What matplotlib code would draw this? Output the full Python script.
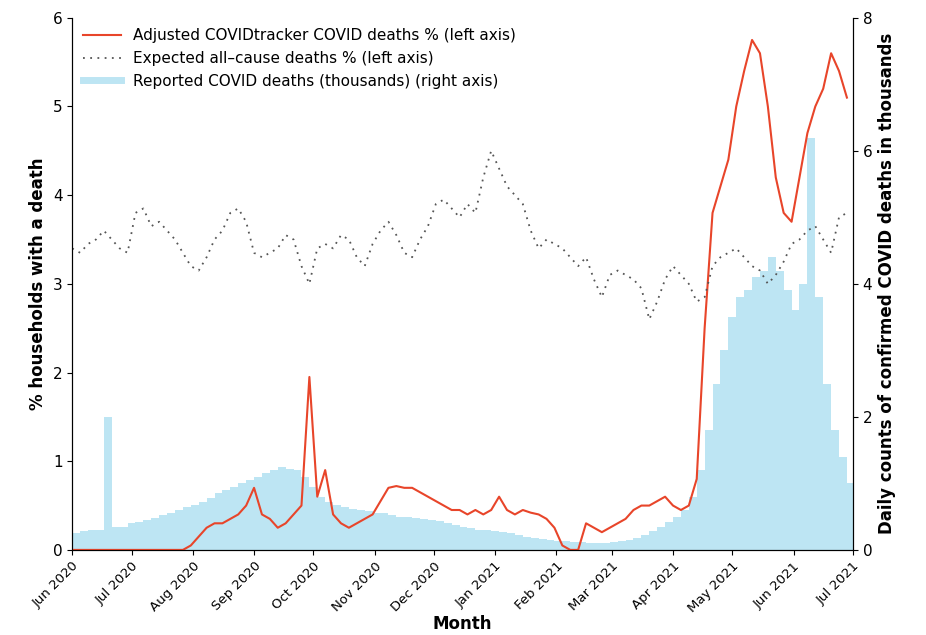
import numpy as np
import pandas as pd
import matplotlib
matplotlib.use('Agg')
import matplotlib.pyplot as plt
import matplotlib.dates as mdates

# values every 4 days starting 2020-06-01
reported_k = [0.25,0.28,0.3,0.3,2.0,0.35,0.35,0.4,
              0.42,0.45,0.48,0.52,0.55,0.6,0.65,0.68,
              0.72,0.78,0.85,0.9,0.95,1.0,1.05,1.1,
              1.15,1.2,1.25,1.22,1.2,1.1,0.95,0.8,
              0.72,0.68,0.65,0.62,0.6,0.58,0.56,
              0.55,0.52,0.5,0.5,0.48,0.46,0.45,
              0.43,0.4,0.38,0.35,0.33,0.3,0.3,0.28,
              0.27,0.25,0.22,0.2,0.18,0.17,0.15,0.14,
              0.13,0.12,0.12,0.11,0.11,0.11,0.12,
              0.13,0.15,0.18,0.22,0.28,0.35,0.42,0.5,
              0.6,0.8,1.2,1.8,2.5,3.0,3.5,3.8,
              3.9,4.1,4.2,4.4,4.2,3.9,3.6,4.0,
              6.2,3.8,2.5,1.8,1.4,1.0]
adjusted = [0]*15 + [0.05,0.15,0.25,0.3,0.3,0.35,0.4,0.5,0.7,0.4,0.35,0.25,0.3,0.4,0.5,
            1.95,0.6,0.9,0.4,0.3,0.25,0.3,0.35,0.4,0.55,0.7,0.72,0.7,0.7,0.65,0.6,
            0.55,0.5,0.45,0.45,0.4,0.45,0.4,0.45,0.6,0.45,0.4,0.45,0.42,0.4,0.35,
            0.25,0.05,0.0,0.0,0.3,0.25,0.2,0.25,0.3,0.35,0.45,0.5,0.5,0.55,0.6,
            0.5,0.45,0.5,0.8,2.5,3.8,4.1,4.4,5.0,5.4,5.75,5.6,5.0,4.2,3.8,3.7,
            4.2,4.7,5.0,5.2,5.6,5.4,5.1]
expected = [3.4,3.35,3.45,3.5,3.6,3.5,3.4,3.35,3.8,3.85,3.65,3.7,3.6,3.5,3.35,3.2,
            3.15,3.3,3.5,3.6,3.8,3.85,3.7,3.35,3.3,3.35,3.4,3.55,3.5,3.2,3.0,3.4,
            3.45,3.4,3.55,3.5,3.3,3.2,3.45,3.6,3.7,3.55,3.35,3.3,3.5,3.65,3.9,3.95,
            3.85,3.75,3.9,3.8,4.2,4.5,4.3,4.1,4.0,3.9,3.6,3.4,3.5,3.45,3.4,3.3,
            3.2,3.3,3.05,2.85,3.1,3.15,3.1,3.05,2.95,2.6,2.8,3.05,3.2,3.1,3.0,2.8,
            2.85,3.2,3.3,3.35,3.4,3.3,3.2,3.15,3.0,3.1,3.25,3.45,3.5,3.6,3.65,3.5,
            3.35,3.75,3.8]

start = pd.Timestamp('2020-06-01')
def dates(v):
    return start + pd.to_timedelta(np.arange(len(v)) * 4, unit='D')

fig = plt.figure(figsize=(9.26, 6.35), dpi=100)
ax = fig.add_axes([0.078, 0.134, 0.843, 0.838])
ax2 = ax.twinx()
ax.set_zorder(2); ax.patch.set_visible(False)

ax2.bar(dates(reported_k), reported_k, width=4, align='edge', color='#bde5f3', linewidth=0)
ax.plot(dates(adjusted), adjusted, color='#e8452a', lw=1.5, label='Adjusted COVIDtracker COVID deaths % (left axis)')
ax.plot(dates(expected), expected, color='#555555', lw=1.3, ls=(0, (1, 3)), label='Expected all\u2013cause deaths % (left axis)')
ax.plot([], [], color='#bde5f3', lw=5, label='Reported COVID deaths (thousands) (right axis)')

for a in (ax, ax2):
    a.spines['top'].set_visible(False)

x0, x1 = pd.Timestamp('2020-06-01'), pd.Timestamp('2021-07-01')
ax.set_xlim(x0, x1)
ax.set_ylim(0, 6)
ax2.set_ylim(0, 8)
ax2.set_yticks([0, 2, 4, 6, 8])
ax.xaxis.set_major_locator(mdates.MonthLocator())
ax.xaxis.set_major_formatter(mdates.DateFormatter('%b %Y'))
for lbl in ax.get_xticklabels():
    lbl.set_rotation(45); lbl.set_ha('right'); lbl.set_rotation_mode('anchor')
ax.tick_params(axis='x', labelsize=9.5)
ax.tick_params(axis='y', labelsize=11)
ax2.tick_params(labelsize=11)
ax.set_xlabel('Month', fontsize=12, fontweight='bold', labelpad=0)
ax.set_ylabel('% households with a death', fontsize=12, fontweight='bold')
ax2.set_ylabel('Daily counts of confirmed COVID deaths in thousands', fontsize=12, fontweight='bold')
ax.legend(loc='upper left', frameon=False, fontsize=11, handlelength=2.5, borderaxespad=0.3)

fig.savefig('out.png')
